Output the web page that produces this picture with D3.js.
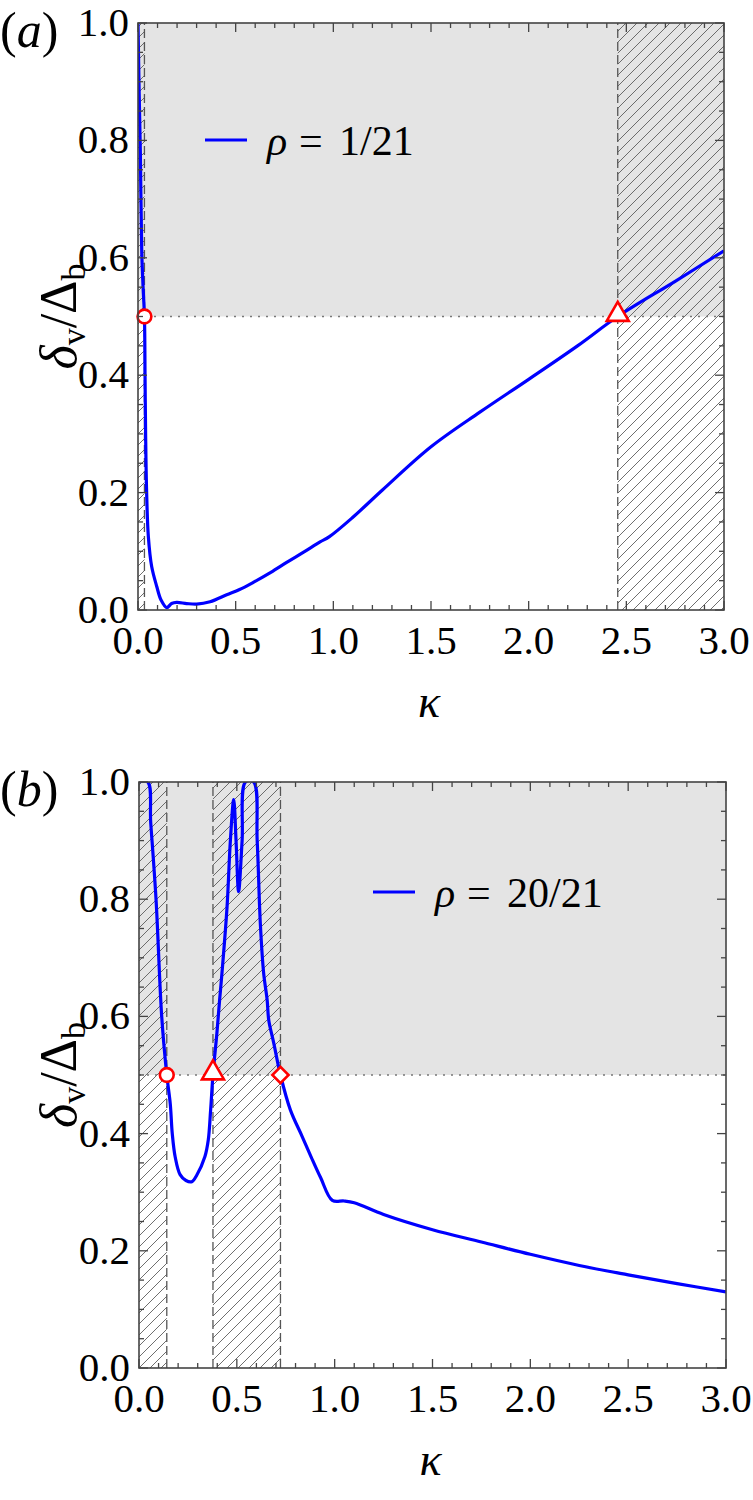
<!DOCTYPE html>
<html>
<head>
<meta charset="utf-8">
<script src="https://cdn.jsdelivr.net/npm/d3@7"></script>
<style>
  html, body { margin: 0; padding: 0; background: #fff; }
  svg { display: block; }
</style>
</head>
<body>
<svg id="chart" width="753" height="1500"></svg>
<script>
// ---------------- data ----------------
const kappaA = [0.0, 0.006, 0.012, 0.019, 0.026, 0.033, 0.036, 0.039, 0.044, 0.053, 0.07, 0.096, 0.118, 0.147,
                0.172, 0.198, 0.249, 0.30, 0.369, 0.454, 0.52, 0.59, 0.68, 0.761, 0.85, 0.932, 0.98,
                1.1, 1.25, 1.5, 1.75, 2.0, 2.25, 2.456, 2.75, 3.0];
const deltaA = [1.0, 0.88, 0.78, 0.613, 0.55, 0.5, 0.402, 0.30, 0.203, 0.125, 0.074, 0.04, 0.017, 0.004,
                0.011, 0.013, 0.011, 0.010, 0.014, 0.026, 0.035, 0.047, 0.064, 0.081, 0.099, 0.116, 0.125,
                0.158, 0.204, 0.278, 0.337, 0.393, 0.450, 0.5, 0.56, 0.612];

const kappaB = [0.0, 0.045, 0.06, 0.087, 0.116, 0.142, 0.16, 0.17, 0.185, 0.21, 0.24, 0.27,
                0.295, 0.337, 0.354, 0.366, 0.378, 0.398, 0.412, 0.424, 0.45, 0.467, 0.484,
                0.496, 0.509, 0.527, 0.544, 0.586, 0.604, 0.62, 0.637, 0.655, 0.663, 0.689,
                0.723, 0.774, 0.834, 0.88, 0.928, 0.988, 1.048, 1.1, 1.25, 1.5, 1.75, 2.0, 2.25,
                2.5, 2.75, 3.0];
const deltaB = [1.0, 1.0, 0.93, 0.8, 0.6, 0.5, 0.45, 0.40, 0.36, 0.33, 0.32, 0.318,
                0.329, 0.361, 0.389, 0.44, 0.5, 0.571, 0.628, 0.674, 0.787, 0.90, 0.970,
                0.90, 0.813, 0.90, 1.0, 1.0, 0.90, 0.759, 0.674, 0.628, 0.594, 0.554,
                0.5, 0.44, 0.395, 0.36, 0.325, 0.286, 0.285, 0.282, 0.262, 0.236, 0.215, 0.194, 0.175,
                0.159, 0.144, 0.130];

const xTickValues = [0, 0.5, 1.0, 1.5, 2.0, 2.5, 3.0];
const xTickLabels = ["0.0", "0.5", "1.0", "1.5", "2.0", "2.5", "3.0"];
const yTickValues = [0, 0.2, 0.4, 0.6, 0.8, 1.0];
const yTickLabels = ["0.0", "0.2", "0.4", "0.6", "0.8", "1.0"];

const threshold = 0.5;
const hatchA = [[0, 0.033], [2.456, 3.0]];
const hatchB = [[0, 0.142], [0.378, 0.723]];
const markersA = [{k: 0.033, shape: "circle"}, {k: 2.456, shape: "triangle"}];
const markersB = [{k: 0.142, shape: "circle"}, {k: 0.378, shape: "triangle"}, {k: 0.723, shape: "diamond"}];
const legendA = ["ρ", "=", "1/21"];
const legendB = ["ρ", "=", "20/21"];
const panelLabels = ["a", "b"];

// ---------------- drawing ----------------
const FONT = "Liberation Serif";
const svg = d3.select("#chart").attr("font-family", FONT);
const defs = svg.append("defs");

const hp = defs.append("pattern").attr("id", "hatch")
  .attr("patternUnits", "userSpaceOnUse").attr("width", 11).attr("height", 11);
hp.append("path").attr("d", "M-1,1 l2,-2 M0,11 l11,-11 M10,12 l2,-2")
  .attr("stroke", "#555").attr("stroke-width", 0.85);

function txt(sel) { return sel.append("text").attr("font-family", FONT).attr("fill", "#000"); }

function drawPanel(cfg, idx) {
  const {left, right, top, bottom, kx, dy, hatch, markers, legend, legendPos, label} = cfg;
  const x = d3.scaleLinear().domain([0, 3]).range([left, right]);
  const y = d3.scaleLinear().domain([0, 1]).range([bottom, top]);
  const g = svg.append("g");

  const clipId = "clip" + idx;
  defs.append("clipPath").attr("id", clipId).append("rect")
    .attr("x", left).attr("y", top).attr("width", right - left).attr("height", bottom - top);

  g.append("rect").attr("x", x(0)).attr("y", y(1)).attr("width", x(3) - x(0))
    .attr("height", y(threshold) - y(1)).attr("fill", "#e4e4e4");

  g.selectAll(".hatch").data(hatch).enter().append("rect")
    .attr("x", d => x(d[0])).attr("y", y(1))
    .attr("width", d => x(d[1]) - x(d[0])).attr("height", y(0) - y(1))
    .attr("fill", "url(#hatch)").attr("clip-path", `url(#${clipId})`);

  const bounds = [];
  hatch.forEach(h => { [h[0], h[1]].forEach(v => { if (v > 0 && v < 3) bounds.push(v); }); });
  g.selectAll(".bnd").data(bounds).enter().append("line")
    .attr("x1", d => x(d)).attr("x2", d => x(d)).attr("y1", y(0)).attr("y2", y(1))
    .attr("stroke", "#555").attr("stroke-width", 1.3).attr("stroke-dasharray", "9,4");

  g.append("line").attr("x1", x(0)).attr("x2", x(3)).attr("y1", y(threshold)).attr("y2", y(threshold))
    .attr("stroke", "#777").attr("stroke-width", 1.3).attr("stroke-dasharray", "2,6");

  const pts = kx.map((k, i) => [k, dy[i]]);
  g.append("path").datum(pts)
    .attr("d", d3.line().x(d => x(d[0])).y(d => y(d[1])).curve(d3.curveCatmullRom.alpha(0.5)))
    .attr("fill", "none").attr("stroke", "#0000ff").attr("stroke-width", 3.2)
    .attr("stroke-linejoin", "round")
    .attr("clip-path", `url(#${clipId})`);

  // legend
  g.append("line").attr("x1", legendPos[0]).attr("x2", legendPos[0] + 42)
    .attr("y1", legendPos[1]).attr("y2", legendPos[1])
    .attr("stroke", "#0000ff").attr("stroke-width", 3.2);
  const lx = legendPos[0] + 62, ly = legendPos[1] + 15;
  txt(g).attr("x", lx).attr("y", ly).attr("font-size", 42).attr("font-style", "italic").text(legend[0]);
  txt(g).attr("x", lx + 32).attr("y", ly).attr("font-size", 42).text(legend[1]);
  txt(g).attr("x", lx + 72).attr("y", ly).attr("font-size", 42).text(legend[2]);

  const sym = {circle: d3.symbolCircle, triangle: d3.symbolTriangle, diamond: d3.symbolSquare};
  const sz = {circle: 150, triangle: 210, diamond: 130};
  g.selectAll(".mk").data(markers).enter().append("path")
    .attr("d", d => d3.symbol().type(sym[d.shape]).size(sz[d.shape])())
    .attr("transform", d => `translate(${x(d.k)},${y(threshold) + (d.shape === "triangle" ? -2 : 0)}) rotate(${d.shape === "diamond" ? 45 : 0})`)
    .attr("fill", "#fff").attr("stroke", "#ff0000").attr("stroke-width", 2.6);

  g.append("rect").attr("x", left).attr("y", top).attr("width", right - left).attr("height", bottom - top)
    .attr("fill", "none").attr("stroke", "#444").attr("stroke-width", 1.6);

  const xMinor = d3.range(0, 3.0001, 0.1);
  const yMinor = d3.range(0, 1.0001, 0.05);
  const isMajX = v => Math.abs(v * 2 - Math.round(v * 2)) < 1e-6;
  const isMajY = v => Math.abs(v * 5 - Math.round(v * 5)) < 1e-6;
  const tk = g.append("g").attr("stroke", "#444").attr("stroke-width", 1.3);
  xMinor.forEach(v => {
    const L = isMajX(v) ? 9 : 5;
    tk.append("line").attr("x1", x(v)).attr("x2", x(v)).attr("y1", bottom).attr("y2", bottom - L);
    tk.append("line").attr("x1", x(v)).attr("x2", x(v)).attr("y1", top).attr("y2", top + L);
  });
  yMinor.forEach(v => {
    const L = isMajY(v) ? 9 : 5;
    tk.append("line").attr("y1", y(v)).attr("y2", y(v)).attr("x1", left).attr("x2", left + L);
    tk.append("line").attr("y1", y(v)).attr("y2", y(v)).attr("x1", right).attr("x2", right - L);
  });

  xTickValues.forEach((d, i) => {
    txt(g).attr("x", x(d)).attr("y", bottom + 44).attr("text-anchor", "middle")
      .attr("font-size", 41).text(xTickLabels[i]);
  });
  yTickValues.forEach((d, i) => {
    txt(g).attr("x", left - 9).attr("y", y(d) + 13).attr("text-anchor", "end")
      .attr("font-size", 41).text(yTickLabels[i]);
  });

  txt(g).attr("x", (left + right) / 2 - 2).attr("y", bottom + 107)
    .attr("text-anchor", "middle").attr("font-size", 46).attr("font-style", "italic").text("κ");

  const yl = txt(g)
    .attr("transform", `translate(76,${(top + bottom) / 2}) rotate(-90)`)
    .attr("text-anchor", "middle").attr("font-size", 52);
  yl.append("tspan").attr("font-style", "italic").text("δ");
  yl.append("tspan").attr("font-size", 34).attr("dy", 9).text("v");
  yl.append("tspan").attr("dy", -9).text("/Δ");
  yl.append("tspan").attr("font-size", 34).attr("dy", 9).text("b");

  const pl = txt(g).attr("x", 0).attr("y", top + 24).attr("font-size", 50);
  pl.append("tspan").text("(");
  pl.append("tspan").attr("font-style", "italic").text(label);
  pl.append("tspan").text(")");
}

drawPanel({left: 138, right: 724, top: 23, bottom: 610, kx: kappaA, dy: deltaA,
  hatch: hatchA, markers: markersA, legend: legendA, legendPos: [205, 140], label: panelLabels[0]}, 0);
drawPanel({left: 139, right: 726, top: 782, bottom: 1368, kx: kappaB, dy: deltaB,
  hatch: hatchB, markers: markersB, legend: legendB, legendPos: [373, 892], label: panelLabels[1]}, 1);
</script>
</body>
</html>
